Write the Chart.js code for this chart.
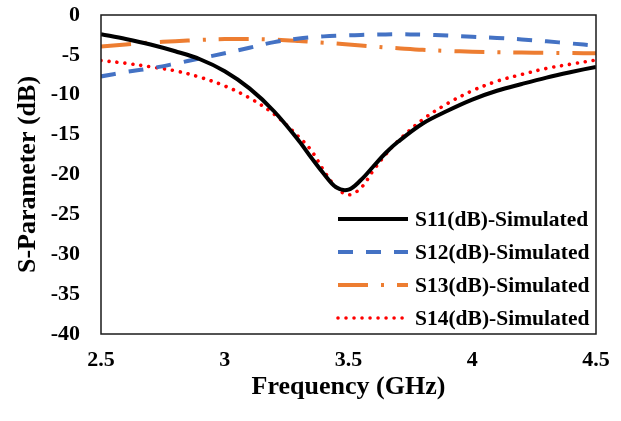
<!DOCTYPE html>
<html>
<head>
<meta charset="utf-8">
<script src="https://cdn.jsdelivr.net/npm/chart.js@4"></script>
<style>
  html, body { margin: 0; padding: 0; background: #fff; }
  canvas { display: block; }
</style>
</head>
<body>
<canvas id="chart" width="621" height="421"></canvas>
<script>
const FONT = "'Liberation Serif', 'Times New Roman', serif";

const freqGHz = [2.5, 2.6, 2.7, 2.8, 2.9, 3.0, 3.1, 3.2, 3.3, 3.35, 3.4, 3.45, 3.5, 3.55, 3.6, 3.65, 3.7, 3.8, 3.9, 4.0, 4.1, 4.2, 4.3, 4.4, 4.5];
const s11 = [-2.4, -3.0, -3.7, -4.55, -5.55, -7.05, -9.2, -12.1, -15.8, -17.9, -19.9, -21.6, -21.9, -20.7, -19.0, -17.3, -15.9, -13.6, -12.0, -10.6, -9.5, -8.65, -7.85, -7.15, -6.5];
const s12 = [-7.7, -7.15, -6.7, -6.1, -5.45, -4.8, -4.1, -3.4, -2.95, -2.8, -2.68, -2.6, -2.55, -2.5, -2.46, -2.43, -2.42, -2.46, -2.57, -2.72, -2.88, -3.06, -3.3, -3.57, -3.85];
const s13 = [-3.95, -3.7, -3.45, -3.28, -3.13, -3.02, -3.0, -3.08, -3.25, -3.36, -3.47, -3.58, -3.7, -3.82, -3.94, -4.06, -4.17, -4.37, -4.5, -4.6, -4.66, -4.7, -4.74, -4.77, -4.8];
const s14 = [-5.7, -6.05, -6.5, -7.0, -7.8, -8.9, -10.4, -12.45, -15.3, -17.0, -19.5, -21.6, -22.55, -21.7, -19.5, -17.5, -15.8, -13.1, -11.1, -9.5, -8.3, -7.45, -6.7, -6.15, -5.65];
const seriesNames = ["S11(dB)-Simulated", "S12(dB)-Simulated", "S13(dB)-Simulated", "S14(dB)-Simulated"];
const xTicks = [2.5, 3, 3.5, 4, 4.5];
const yTicks = [0, -5, -10, -15, -20, -25, -30, -35, -40];

const toPoints = vals => freqGHz.map((f, i) => ({ x: f, y: vals[i] }));

// frame round the plot area, like the Excel chart border
const frame = {
  id: "frame",
  afterDraw(chart) {
    const { ctx, chartArea: { left, top, right, bottom } } = chart;
    ctx.save();
    ctx.strokeStyle = "#1a1a1a";
    ctx.lineWidth = 1.5;
    ctx.strokeRect(left, top, right - left, bottom - top);
    ctx.restore();
  },
};

// legend sits inside the plot, bottom right
const insideLegend = {
  id: "insideLegend",
  afterDraw(chart) {
    const { ctx } = chart;
    const x0 = 338, x1 = 408, tx = 415;
    const rows = [219, 252, 285, 318];
    ctx.save();
    chart.data.datasets.forEach((ds, i) => {
      const y = rows[i];
      ctx.strokeStyle = ds.borderColor;
      ctx.lineWidth = ds.borderWidth;
      ctx.lineCap = ds.borderCapStyle || "butt";
      ctx.setLineDash(ds.borderDash || []);
      ctx.beginPath();
      ctx.moveTo(x0, y);
      ctx.lineTo(x1, y);
      ctx.stroke();
      ctx.setLineDash([]);
      ctx.fillStyle = "#000";
      ctx.font = `bold 21.5px ${FONT}`;
      ctx.textAlign = "left";
      ctx.textBaseline = "middle";
      ctx.fillText(ds.label, tx, y + 1);
    });
    ctx.restore();
  },
};

new Chart(document.getElementById("chart"), {
  type: "line",
  data: {
    datasets: [
      {
        label: seriesNames[0],
        data: toPoints(s11),
        borderColor: "#000000",
        borderWidth: 4,
      },
      {
        label: seriesNames[1],
        data: toPoints(s12),
        borderColor: "#4472C4",
        borderWidth: 4,
        borderDash: [15, 13],
      },
      {
        label: seriesNames[2],
        data: toPoints(s13),
        borderColor: "#ED7D31",
        borderWidth: 4,
        borderDash: [30, 13, 3, 13],
      },
      {
        label: seriesNames[3],
        data: toPoints(s14),
        borderColor: "#FF0000",
        borderWidth: 3.6,
        borderDash: [0.01, 8],
        borderCapStyle: "round",
      },
    ],
  },
  options: {
    responsive: false,
    animation: false,
    devicePixelRatio: 1,
    layout: { padding: { top: 15, right: 25, bottom: 0, left: 0 } },
    elements: {
      point: { radius: 0 },
      line: { tension: 0.35, fill: false },
    },
    plugins: { legend: { display: false }, tooltip: { enabled: false } },
    scales: {
      x: {
        type: "linear",
        min: 2.5,
        max: 4.5,
        afterBuildTicks(scale) { scale.ticks = xTicks.map(v => ({ value: v })); },
        afterFit(scale) {
          scale.height = 87;
          scale.paddingLeft = 0;
          scale.paddingRight = 0;
        },
        grid: { display: false, drawTicks: false },
        border: { display: false },
        ticks: {
          color: "#000",
          padding: 13,
          font: { family: FONT, size: 22, weight: "bold" },
          callback: v => String(v),
        },
        title: {
          display: true,
          text: "Frequency (GHz)",
          color: "#000",
          font: { family: FONT, size: 26, weight: "bold" },
          padding: { top: 0, bottom: 18 },
        },
      },
      y: {
        type: "linear",
        min: -40,
        max: 0,
        afterBuildTicks(scale) { scale.ticks = yTicks.map(v => ({ value: v })); },
        afterFit(scale) {
          scale.width = 101;
          scale.paddingTop = 0;
          scale.paddingBottom = 0;
        },
        grid: { display: false, drawTicks: false },
        border: { display: false },
        ticks: {
          color: "#000",
          padding: 21,
          font: { family: FONT, size: 22, weight: "bold" },
          callback: v => String(v),
        },
        title: {
          display: true,
          text: "S-Parameter (dB)",
          color: "#000",
          font: { family: FONT, size: 26, weight: "bold" },
          padding: { top: 13, bottom: 0 },
        },
      },
    },
  },
  plugins: [frame, insideLegend],
});
</script>
</body>
</html>
